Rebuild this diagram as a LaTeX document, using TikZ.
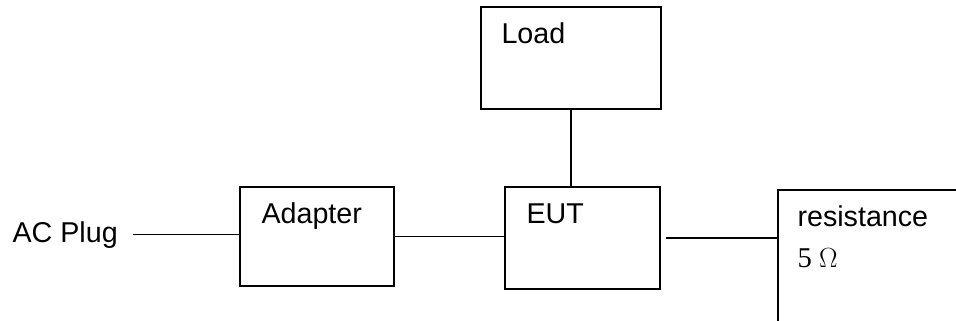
\documentclass[tikz,border=0pt]{standalone}
\usepackage{fontspec}
\setmainfont{Liberation Sans}
\newfontfamily\timesfont{Liberation Serif}
\usetikzlibrary{calc,positioning}
\tikzset{
    block/.style={
        rectangle,
        draw=black, line width=1.1pt,
        inner sep=0pt
    },
    blocktext/.style={
        anchor=base west,
        inner sep=0pt,
        font=\fontsize{21.5}{26}\selectfont
    },
    wire/.style={draw, line width=1.1pt}
}

\begin{document}
\begin{tikzpicture}[x=0.75pt, y=-0.75pt]
    \fill[white] (0,0) rectangle (956,321);
    \clip (0,0) rectangle (956,321);

    % boxes
    \node[block, minimum width=115.5pt, minimum height=74.25pt] (adapter) at (317,236.5) {};
    \node[block, minimum width=135pt, minimum height=76.5pt] (load) at (571,58) {};
    \node[block, minimum width=116.25pt, minimum height=76.5pt] (eut) at (582.5,238) {};
    \node[block, minimum width=174pt, minimum height=127.5pt] (res) at (894,275) {};

    % texts
    \node[blocktext, anchor=base east, inner xsep=11.25pt] (acplug) at (133,242) {AC Plug};
    \node[blocktext] (adaptertext) at ([shift={(22,37.5)}]adapter.north west) {Adapter};
    \node[blocktext] (loadtext) at ([shift={(21,37.5)}]load.north west) {Load};
    \node[blocktext] (euttext) at ([shift={(22,37.5)}]eut.north west) {EUT};
    \node[blocktext] (restext) at ([shift={(20,37.5)}]res.north west) {resistance};
    \node[blocktext, font=\fontsize{21.5}{26}\timesfont] (ohm) at ([shift={(0,41)}]restext.base west) {5 {\fontsize{19.5}{22}\selectfont$\Omega$}};

    % wires
    \draw[wire] (acplug.east) -- (acplug.east -| adapter.west);
    \draw[wire] (adapter.east) -- (adapter.east -| eut.west);
    \draw[wire] (load.south) -- (load.south |- eut.north);
    \draw[wire, shorten <=3.75pt] (eut.east) -- (eut.east -| res.west);
\end{tikzpicture}
\end{document}
